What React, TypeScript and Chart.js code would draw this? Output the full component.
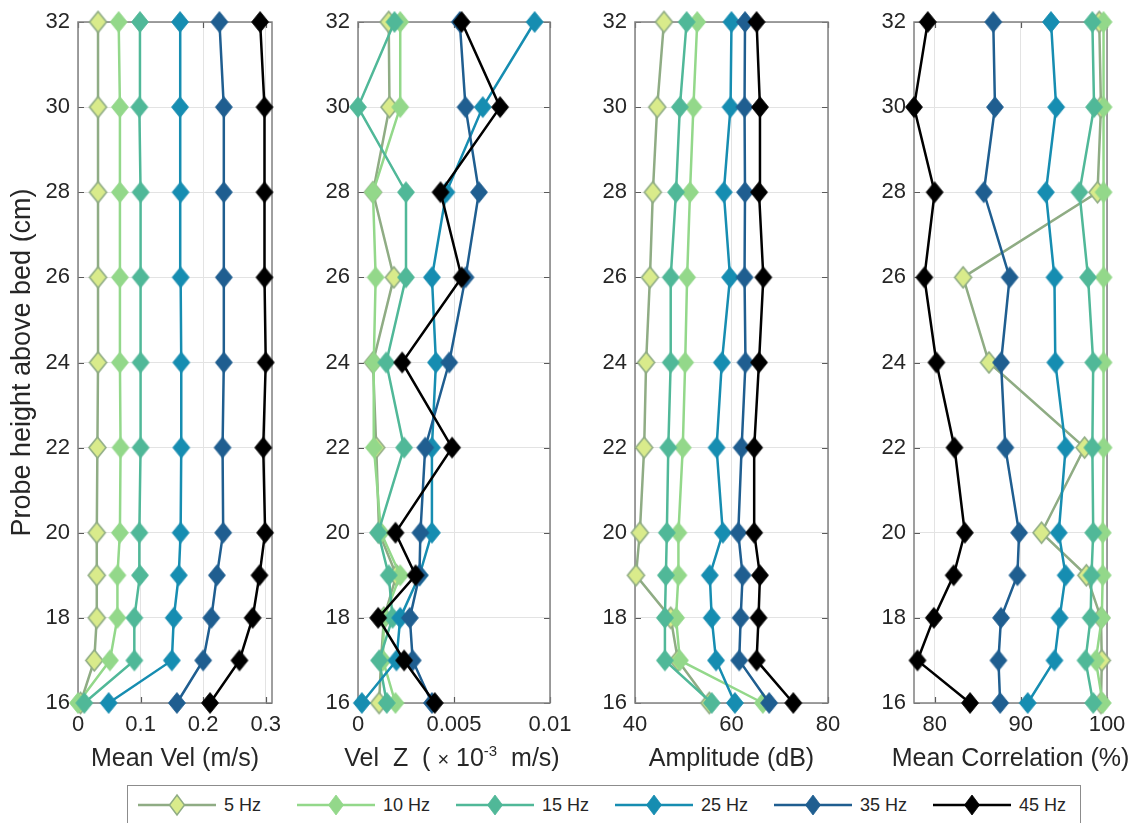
import React, { useEffect, useRef } from 'react';
import { Chart, registerables } from 'chart.js';

Chart.register(...registerables);

const FONT = "'Liberation Sans', Arial, Helvetica, sans-serif";
const TEXT = '#262626';

// Probe heights (cm), shared by every panel
const heights = [16, 17, 18, 19, 20, 22, 24, 26, 28, 30, 32];
const heightTicks = [16, 18, 20, 22, 24, 26, 28, 30, 32];
const heightTickLabels = ['16', '18', '20', '22', '24', '26', '28', '30', '32'];

const seriesNames = ['5 Hz', '10 Hz', '15 Hz', '25 Hz', '35 Hz', '45 Hz'];

// Mean velocity (m/s)
const meanVel5 = [0.004, 0.026, 0.03, 0.03, 0.03, 0.031, 0.032, 0.032, 0.032, 0.032, 0.032];
const meanVel10 = [0.0, 0.051, 0.063, 0.063, 0.067, 0.068, 0.067, 0.067, 0.067, 0.067, 0.065];
const meanVel15 = [0.01, 0.09, 0.09, 0.099, 0.098, 0.1, 0.1, 0.1, 0.1, 0.098, 0.099];
const meanVel25 = [0.049, 0.15, 0.153, 0.161, 0.164, 0.165, 0.165, 0.164, 0.164, 0.163, 0.163];
const meanVel35 = [0.158, 0.2, 0.213, 0.222, 0.232, 0.231, 0.233, 0.233, 0.233, 0.233, 0.226];
const meanVel45 = [0.211, 0.258, 0.279, 0.29, 0.299, 0.296, 0.3, 0.298, 0.298, 0.298, 0.291];

// Vertical velocity (m/s)
const velZ5 = [0.0011, 0.0012, 0.00135, 0.002, 0.0011, 0.00095, 0.00078, 0.00187, 0.00078, 0.00164, 0.0016];
const velZ10 = [0.00195, 0.0013, 0.00135, 0.0022, 0.0012, 0.00083, 0.00082, 0.00092, 0.00078, 0.0022, 0.0022];
const velZ15 = [0.0015, 0.0011, 0.0018, 0.0016, 0.00105, 0.0024, 0.00147, 0.0025, 0.0025, 0.0, 0.0019];
const velZ25 = [0.0002, 0.002, 0.0022, 0.0032, 0.00385, 0.00385, 0.00406, 0.00385, 0.0046, 0.0065, 0.0092];
const velZ35 = [0.00385, 0.00285, 0.0027, 0.0032, 0.00325, 0.0035, 0.00475, 0.0056, 0.0063, 0.0056, 0.0053];
const velZ45 = [0.004, 0.0024, 0.00105, 0.003, 0.00195, 0.0049, 0.0023, 0.0054, 0.0043, 0.0074, 0.0054];

// Amplitude (dB)
const amp5 = [55.4, 48.9, 47.4, 40.2, 41.0, 41.9, 42.3, 43.1, 43.7, 44.6, 46.0];
const amp10 = [66.5, 49.3, 48.5, 49.0, 49.0, 49.9, 50.4, 50.8, 51.4, 52.1, 52.9];
const amp15 = [55.9, 46.2, 46.2, 46.4, 46.6, 46.9, 47.4, 47.4, 48.5, 49.3, 50.7];
const amp25 = [60.7, 56.8, 55.9, 55.5, 58.2, 56.9, 58.0, 59.7, 58.4, 59.8, 60.0];
const amp35 = [67.8, 61.6, 61.9, 62.3, 61.4, 62.1, 62.9, 62.7, 62.8, 62.7, 62.8];
const amp45 = [72.8, 65.2, 65.6, 65.9, 64.7, 64.7, 65.7, 66.6, 65.7, 65.9, 65.2];

// Mean correlation (%)
const corr5 = [99.3, 99.4, 99.3, 97.6, 92.4, 97.4, 86.3, 83.3, 98.9, 99.3, 99.1];
const corr10 = [99.5, 98.7, 99.4, 99.5, 99.5, 99.6, 99.6, 99.6, 99.6, 99.6, 99.6];
const corr15 = [98.4, 97.5, 98.1, 98.2, 98.4, 98.3, 98.4, 97.8, 96.8, 98.5, 98.3];
const corr25 = [90.8, 93.9, 94.5, 95.2, 94.4, 95.2, 94.0, 93.9, 92.9, 94.1, 93.5];
const corr35 = [87.6, 87.4, 87.7, 89.6, 89.8, 88.2, 87.7, 88.7, 85.7, 87.0, 86.8];
const corr45 = [84.1, 78.0, 79.9, 82.2, 83.5, 82.3, 80.2, 78.8, 80.0, 77.6, 79.2];

// X tick values / labels
const velTicks = [0, 0.1, 0.2, 0.3];
const velTickLabels = ['0', '0.1', '0.2', '0.3'];
const velZTicks = [0, 0.005, 0.01];
const velZTickLabels = ['0', '0.005', '0.01'];
const ampTicks = [40, 60, 80];
const ampTickLabels = ['40', '60', '80'];
const corrTicks = [80, 90, 100];
const corrTickLabels = ['80', '90', '100'];

const lineColors = ['#8fac84', '#93d88a', '#50b898', '#168db1', '#1f5e90', '#000000'];
const fillColors = ['#d9eb8b', '#93d88a', '#50b898', '#168db1', '#1f5e90', '#000000'];

function makeDiamond(fill: string, stroke: string, hw: number, hh: number, lw: number) {
  const c = document.createElement('canvas');
  const w = Math.ceil(2 * hw + lw + 2);
  const h = Math.ceil(2 * hh + lw + 2);
  c.width = w;
  c.height = h;
  const ctx = c.getContext('2d')!;
  const cx = w / 2;
  const cy = h / 2;
  ctx.beginPath();
  ctx.moveTo(cx, cy - hh);
  ctx.lineTo(cx + hw, cy);
  ctx.lineTo(cx, cy + hh);
  ctx.lineTo(cx - hw, cy);
  ctx.closePath();
  ctx.fillStyle = fill;
  ctx.fill();
  ctx.lineWidth = lw;
  ctx.strokeStyle = stroke;
  ctx.stroke();
  return c;
}

const boxPlugin = {
  id: 'matlabBox',
  beforeDatasetsDraw(chart: any) {
    const { ctx, chartArea } = chart;
    const { left, right, top, bottom } = chartArea;
    const xs = chart.scales.x;
    const ys = chart.scales.y;
    ctx.save();
    ctx.strokeStyle = '#5a5a5a';
    ctx.lineWidth = 1.2;
    ctx.beginPath();
    xs.ticks.forEach((t: any) => {
      const px = Math.round(xs.getPixelForValue(t.value)) + 0.5;
      ctx.moveTo(px, bottom);
      ctx.lineTo(px, bottom - 6);
      ctx.moveTo(px, top);
      ctx.lineTo(px, top + 6);
    });
    ys.ticks.forEach((t: any) => {
      const py = Math.round(ys.getPixelForValue(t.value)) + 0.5;
      ctx.moveTo(left, py);
      ctx.lineTo(left + 6, py);
      ctx.moveTo(right, py);
      ctx.lineTo(right - 6, py);
    });
    ctx.stroke();
    ctx.strokeStyle = '#808080';
    ctx.lineWidth = 1.5;
    ctx.strokeRect(left, top, right - left, bottom - top);
    ctx.restore();
  },
};

type PanelCfg = {
  series: number[][];
  min: number;
  max: number;
  ticks: number[];
  tickLabels: string[];
  left: number;
  yWidth: number;
  plotRight: number;
  padRight: number;
  yTitle?: string;
};

const CANVAS_H = 780;
const PLOT_TOP = 22;
const PLOT_BOTTOM = 703;

const panels: PanelCfg[] = [
  {
    series: [meanVel5, meanVel10, meanVel15, meanVel25, meanVel35, meanVel45],
    min: 0, max: 0.31, ticks: velTicks, tickLabels: velTickLabels,
    left: 0, yWidth: 78, plotRight: 272, padRight: 22,
    yTitle: 'Probe height above bed (cm)',
  },
  {
    series: [velZ5, velZ10, velZ15, velZ25, velZ35, velZ45],
    min: 0, max: 0.01, ticks: velZTicks, tickLabels: velZTickLabels,
    left: 300, yWidth: 58, plotRight: 550, padRight: 35,
  },
  {
    series: [amp5, amp10, amp15, amp25, amp35, amp45],
    min: 40, max: 80, ticks: ampTicks, tickLabels: ampTickLabels,
    left: 590, yWidth: 45, plotRight: 828, padRight: 25,
  },
  {
    series: [corr5, corr10, corr15, corr25, corr35, corr45],
    min: 77.6, max: 100, ticks: corrTicks, tickLabels: corrTickLabels,
    left: 865, yWidth: 49, plotRight: 1107, padRight: 35,
  },
];

function Panel({ cfg }: { cfg: PanelCfg }) {
  const ref = useRef<HTMLCanvasElement>(null);
  const width = cfg.plotRight - cfg.left + cfg.padRight;
  useEffect(() => {
    const markers = fillColors.map((f, i) =>
      i === 0 ? makeDiamond(f, lineColors[i], 8.5, 10.5, 1.6) : makeDiamond(f, lineColors[i], 8.5, 10.5, 0.8)
    );
    const chart = new Chart(ref.current!, {
      type: 'line',
      data: {
        datasets: cfg.series.map((vals, i) => ({
          label: seriesNames[i],
          data: vals.map((v, k) => ({ x: v, y: heights[k] })),
          borderColor: lineColors[i],
          backgroundColor: fillColors[i],
          borderWidth: 2.5,
          pointStyle: markers[i] as any,
          pointRadius: 10,
          pointHoverRadius: 10,
          tension: 0,
          clip: false as any,
          order: 5 - i,
        })),
      },
      options: {
        animation: false,
        responsive: false,
        maintainAspectRatio: false,
        events: [],
        layout: { padding: { left: 0, right: cfg.padRight, top: PLOT_TOP, bottom: 0 } },
        plugins: { legend: { display: false }, tooltip: { enabled: false } },
        scales: {
          x: {
            type: 'linear',
            min: cfg.min,
            max: cfg.max,
            afterBuildTicks: (s: any) => {
              s.ticks = cfg.ticks.map((v) => ({ value: v }));
            },
            afterFit: (s: any) => {
              s.height = CANVAS_H - PLOT_BOTTOM;
            },
            ticks: {
              callback: (v: any) => {
                const idx = cfg.ticks.findIndex((t) => Math.abs(t - v) < 1e-9);
                return idx >= 0 ? cfg.tickLabels[idx] : '';
              },
              autoSkip: false,
              maxRotation: 0,
              padding: 9,
              color: TEXT,
              font: { family: FONT, size: 22 },
            },
            grid: { color: '#e3e3e3', lineWidth: 1, drawTicks: false },
            border: { display: false },
          },
          y: {
            type: 'linear',
            min: 16,
            max: 32,
            afterBuildTicks: (s: any) => {
              s.ticks = heightTicks.map((v) => ({ value: v }));
            },
            afterFit: (s: any) => {
              s.width = cfg.yWidth;
            },
            ticks: {
              callback: (v: any) => {
                const idx = heightTicks.indexOf(Number(v));
                return idx >= 0 ? heightTickLabels[idx] : '';
              },
              autoSkip: false,
              padding: 8,
              color: TEXT,
              font: { family: FONT, size: 22 },
            },
            grid: { color: '#e3e3e3', lineWidth: 1, drawTicks: false },
            border: { display: false },
            title: {
              display: !!cfg.yTitle,
              text: cfg.yTitle || '',
              color: TEXT,
              font: { family: FONT, size: 27 },
              padding: { top: 6, bottom: 0 },
            },
          },
        },
      } as any,
      plugins: [boxPlugin],
    });
    return () => chart.destroy();
  }, []);
  return (
    <canvas
      ref={ref}
      width={width}
      height={CANVAS_H}
      style={{ position: 'absolute', left: cfg.left, top: 0, width, height: CANVAS_H }}
    />
  );
}

const titleStyle = (center: number): React.CSSProperties => ({
  position: 'absolute',
  left: center - 160,
  width: 320,
  top: 742,
  height: 30,
  lineHeight: '30px',
  textAlign: 'center',
  fontFamily: FONT,
  fontSize: 25,
  color: TEXT,
  whiteSpace: 'pre',
});

function LegendItem({ i, x }: { i: number; x: number }) {
  const hw = 7.5;
  const hh = 10;
  return (
    <div style={{ position: 'absolute', left: x, top: 0, height: 38, display: 'flex', alignItems: 'center' }}>
      <svg width={78} height={26} style={{ display: 'block' }}>
        <line x1={0} y1={13} x2={78} y2={13} stroke={lineColors[i]} strokeWidth={2.5} />
        <polygon
          points={`${39},${13 - hh} ${39 + hw},13 ${39},${13 + hh} ${39 - hw},13`}
          fill={fillColors[i]}
          stroke={lineColors[i]}
          strokeWidth={i === 0 ? 1.5 : 0.8}
        />
      </svg>
      <span style={{ marginLeft: 8, fontFamily: FONT, fontSize: 18, color: TEXT, whiteSpace: 'nowrap' }}>
        {seriesNames[i]}
      </span>
    </div>
  );
}

export default function App() {
  return (
    <div
      style={{
        position: 'absolute',
        left: 0,
        top: 0,
        width: 1142,
        height: 823,
        overflow: 'hidden',
        background: '#ffffff',
      }}
    >
      {panels.map((p, i) => (
        <Panel key={i} cfg={p} />
      ))}
      <div style={titleStyle(175)}>Mean Vel (m/s)</div>
      <div style={titleStyle(452)}>
        {'Vel  Z  ( '}
        <span style={{ fontSize: 20 }}>×</span>
        {' 10'}
        <sup style={{ fontSize: 15, verticalAlign: 'baseline', position: 'relative', top: -10 }}>-3</sup>
        {'  m/s)'}
      </div>
      <div style={titleStyle(731.5)}>Amplitude (dB)</div>
      <div style={titleStyle(1010.5)}>Mean Correlation (%)</div>
      <div
        style={{
          position: 'absolute',
          left: 127,
          top: 785,
          width: 952,
          height: 50,
          border: '1px solid #8c8c8c',
          background: '#ffffff',
        }}
      >
        {seriesNames.map((_, i) => (
          <LegendItem key={i} i={i} x={10 + i * 159} />
        ))}
      </div>
    </div>
  );
}
